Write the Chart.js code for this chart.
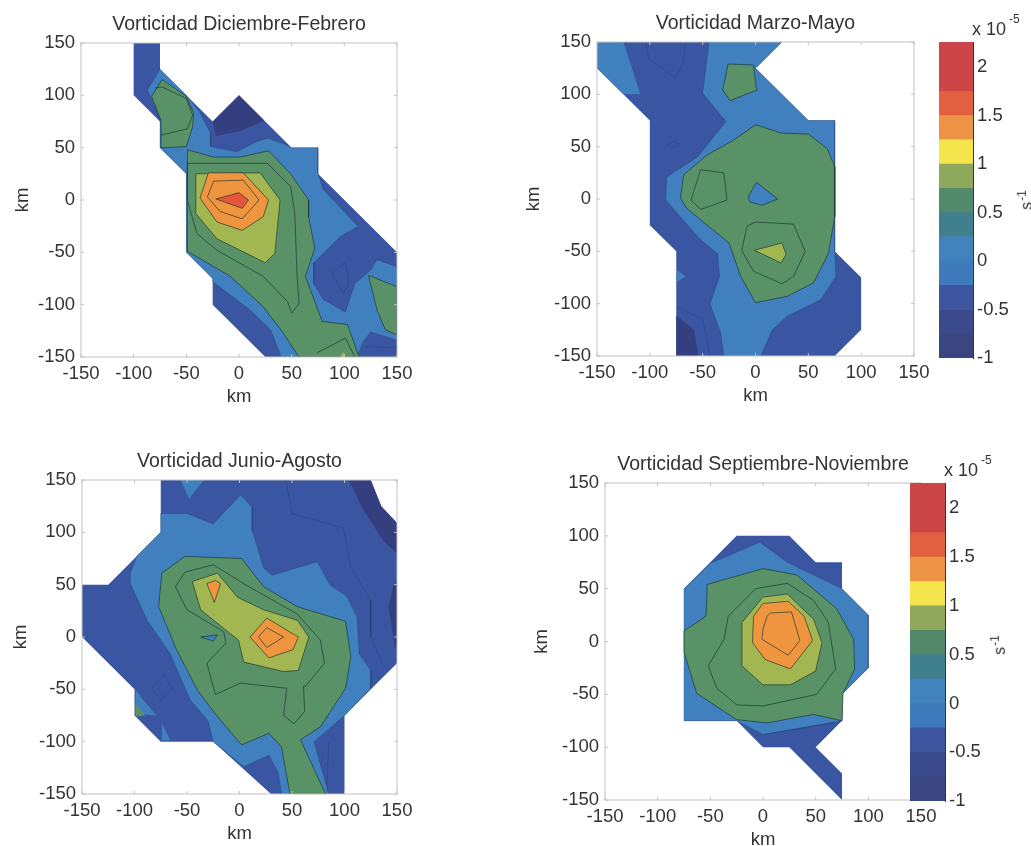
<!DOCTYPE html>
<html>
<head>
<meta charset="utf-8">
<script src="https://cdn.jsdelivr.net/npm/chart.js@4/dist/chart.umd.js"></script>
<style>
  html, body { margin: 0; padding: 0; background: #fff; }
  body { width: 1031px; height: 846px; position: relative; overflow: hidden; font-family: "Liberation Sans", Arial, sans-serif; color: #333; }
  canvas { position: absolute; }
  .lbl { position: absolute; font-size: 18px; white-space: nowrap; line-height: 1; }
  .lbl sup { font-size: 12px; position: relative; top: -7px; vertical-align: top; margin-left: 3px; }
  .rot { transform: rotate(-90deg); transform-origin: center; font-size: 16px; }
  .rot sup { top: -3px; margin-left: 1px; }
</style>
</head>
<body>
<script>
// tick labels
const kmTicks = [-150, -100, -50, 0, 50, 100, 150];
const barTicks = [-1, -0.5, 0, 0.5, 1, 1.5, 2];

// colorbar steps (x 10^-5 s^-1)
const barEdges = [-1, -0.75, -0.5, -0.25, 0, 0.25, 0.5, 0.75, 1, 1.25, 1.5, 1.75, 2.26];
const barColors = ['#3b4680', '#3b4a8d', '#3d559f', '#3f7abc', '#4383bd', '#40808e', '#52896a', '#8fa95c', '#f4e54c', '#ec9346', '#e2603f', '#cc4647'];

// contour colours
const navy = '#333f7f', dark = '#3a56a2', blue = '#4080bf', green = '#5a9268', light = '#a2b752', orange = '#f0953f', red = '#e4553a';

// Diciembre-Febrero, polygons in km
const djfOutline = [[-100,150],[-75,150],[-75,125],[-25,75],[0,100],[50,50],[75,50],[75,25],[150,-50],[150,-150],[25,-150],[-25,-100],[-25,-75],[-50,-50],[-50,25],[-75,50],[-75,75],[-100,100]];
const djfNavy = [[-25,75],[0,100],[24,76],[1,66],[-22,61]];
const djfBlue = [[-75,125],[-50,100],[-38,85],[-27,64],[-27,51],[-2,46],[17,56],[27,59],[42,54],[50,50],[75,50],[75,25],[80,10],[113,-25],[96,-35],[71,-60],[71,-80],[80,-95],[101,-107],[110,-80],[125,-67],[131,-57],[150,-64],[150,-150],[40,-150],[30,-124],[8,-103],[-25,-78],[-25,-75],[-50,-50],[-50,25],[-75,50],[-75,78],[-87,105]];
const djfCorner = [[125,-126],[150,-134],[150,-150],[112,-150],[118,-135]];
const djfGreenTop = [[-73,115],[-50,99],[-43,83],[-44,70],[-50,51],[-74,50],[-74,76],[-83,99]];
const djfGreen = [[-49,48],[-24,41],[1,41],[28,47],[49,25],[66,0],[66,-16],[72,-46],[63,-73],[79,-116],[103,-119],[114,-150],[57,-150],[42,-127],[23,-102],[-8,-73],[-49,-49]];
const djfGreenRight = [[123,-72],[150,-83],[150,-129],[139,-124],[131,-105]];
const djfLight = [[-41,25],[20,26],[39,0],[34,-51],[25,-60],[-21,-37],[-41,-13]];
const djfOrange = [[-29,26],[4,26],[28,0],[23,-16],[3,-29],[-21,-21],[-37,2]];
const djfRingIn = [[-24,18],[4,19],[19,0],[3,-18],[-18,-11],[-30,3]];
const djfRed = [[-22,1],[0,7],[9,0],[3,-8]];
const djfLoop = [[-49,35],[27,35],[49,13],[53,-13],[55,-70],[57,-99],[50,-108],[46,-97],[23,-73],[-21,-48],[-40,-32],[-49,0]];
const djfLineTop = [[-80,107],[-73,108],[-50,97],[-44,81],[-49,68],[-74,62]];
const djfLineLow = [[74,-146],[101,-132],[110,-150]];
const djfLightLow = [[96,-150],[99,-145],[101,-150]];
const djfDiamond = [[88,-70],[101,-59],[104,-80],[99,-89]];
const djfLineCorner = [[120,-140],[150,-141]];

// Marzo-Mayo
const mamOutline = [[-150,150],[25,150],[0,125],[50,75],[75,75],[75,-50],[100,-75],[100,-125],[75,-150],[-75,-150],[-75,-50],[-100,-25],[-100,75],[-150,125]];
const mamBlueLeft = [[-150,150],[-125,150],[-109,100],[-125,100],[-150,125]];
const mamBlue = [[-44,150],[25,150],[0,125],[50,75],[75,75],[75,-50],[76,-74],[62,-96],[30,-112],[16,-125],[5,-150],[-30,-150],[-33,-128],[-43,-100],[-34,-74],[-36,-52],[-52,-39],[-85,-1],[-84,21],[-55,40],[-28,74],[-50,101]];
const mamBlueDot = [[-74,-68],[-66,-74],[-74,-79],[-75,-76]];
const mamNavy = [[-75,-111],[-68,-117],[-58,-125],[-54,-150],[-75,-150]];
const mamGreen = [[0,71],[24,63],[50,62],[68,48],[75,31],[75,-17],[69,-52],[55,-80],[30,-93],[0,-99],[-14,-74],[-25,-42],[-65,-9],[-71,1],[-68,23],[-46,42],[-21,56]];
const mamHole = [[1,16],[21,0],[6,-6],[-5,-3],[-7,2]];
const mamGreenTop = [[-26,129],[-2,128],[1,104],[-24,94],[-31,104]];
const mamPentagon = [[-52,28],[-30,25],[-27,-1],[-52,-10],[-61,-1]];
const mamLoop = [[0,-22],[36,-24],[47,-50],[36,-74],[25,-81],[-2,-69],[-13,-49],[-8,-26]];
const mamLight = [[-1,-49],[25,-42],[29,-53],[24,-61]];
const mamLineTop = [[-104,150],[-101,134],[-76,116],[-69,129],[-66,150]];
const mamLineDot = [[-84,52],[-77,55],[-72,52],[-79,49]];
const mamLineLow = [[-75,-103],[-50,-115],[-43,-150]];

// Junio-Agosto
const jjaOutline = [[-75,150],[125,150],[135,125],[150,109],[150,-25],[100,-75],[100,-150],[30,-150],[-25,-100],[-75,-100],[-100,-75],[-100,-50],[-150,0],[-150,50],[-125,50],[-75,100]];
const jjaNavyTop = [[104,150],[125,150],[135,125],[150,109],[150,80],[137,92],[118,121]];
const jjaNavyLow = [[147,51],[142,29],[148,-9],[150,-12],[150,51]];
const jjaBlueTop = [[-56,150],[-34,150],[-48,132]];
const jjaBlue = [[-75,118],[-50,118],[-25,108],[1,136],[12,124],[12,102],[23,66],[31,59],[74,72],[86,50],[102,39],[112,19],[114,-16],[125,-32],[125,-49],[100,-75],[71,-100],[85,-150],[40,-150],[37,-130],[28,-113],[4,-124],[-25,-100],[-30,-80],[-47,-60],[-66,-16],[-88,16],[-104,51],[-104,61],[-98,77],[-75,100]];
const jjaBlueFoot = [[-99,-50],[-99,-73],[-79,-75],[-92,-60]];
const jjaGreenFoot = [[-99,-63],[-90,-75],[-99,-76]];
const jjaBlueSpot = [[-74,-82],[-66,-99],[-74,-99]];
const jjaGreen = [[-52,77],[2,75],[23,48],[55,29],[101,15],[106,-19],[101,-49],[77,-86],[58,-98],[82,-150],[48,-150],[40,-105],[28,-92],[2,-103],[-21,-76],[-40,-51],[-60,-12],[-77,29],[-74,61]];
const jjaHole = [[-37,0],[-21,2],[-25,-4]];
const jjaLight = [[-45,53],[-21,61],[-2,38],[23,26],[55,16],[66,0],[56,-32],[42,-33],[4,-24],[-1,-3],[-37,26]];
const jjaOrangeTop = [[-31,51],[-23,54],[-18,51],[-24,33]];
const jjaOrange = [[10,0],[26,18],[56,0],[51,-12],[28,-20]];
const jjaRing = [[18,0],[26,9],[42,0],[26,-10]];
const jjaLoop = [[-61,48],[-52,62],[-25,69],[4,51],[55,22],[77,-3],[81,-25],[63,-47],[61,-47],[62,-71],[52,-83],[42,-75],[45,-49],[1,-44],[-23,-55],[-31,-25],[-13,-6],[-15,5],[-50,26]];
const jjaLineDark = [[44,150],[50,118],[99,104],[106,67],[125,35],[125,0],[137,-28]];
const jjaDiamond = [[-84,-49],[-72,-36],[-64,-49],[-75,-60]];
const jjaLineLow = [[85,-100],[83,-150]];

// Septiembre-Noviembre
const sonOutline = [[-75,50],[-25,100],[25,100],[50,75],[75,75],[75,50],[100,25],[100,-25],[75,-50],[75,-75],[50,-100],[75,-125],[75,-150],[25,-100],[0,-100],[-25,-75],[-75,-75]];
const sonBlue = [[-75,50],[-50,74],[-3,94],[23,75],[75,50],[100,25],[100,-25],[75,-50],[75,-75],[0,-88],[-25,-75],[-75,-75]];
const sonGreen = [[-53,54],[0,69],[32,63],[70,31],[86,2],[87,-26],[76,-49],[75,-75],[48,-69],[4,-77],[-25,-74],[-63,-49],[-75,-10],[-75,10],[-54,24]];
const sonLight = [[-20,18],[0,42],[23,45],[48,21],[56,-1],[50,-28],[26,-41],[0,-41],[-20,-23]];
const sonOrange = [[-9,24],[0,36],[24,38],[39,24],[47,1],[26,-26],[2,-17],[-10,-1]];
const sonRing = [[4,24],[7,27],[27,28],[35,1],[24,-13],[-1,2],[0,12]];
const sonLoop = [[-33,24],[-7,50],[23,55],[48,39],[62,18],[69,-26],[51,-50],[0,-61],[-25,-60],[-44,-44],[-52,-23],[-37,2]];
const sonLineLow = [[0,-88],[67,-77]];

const strongLine = 'rgba(25,50,45,0.65)';
const softLine = 'rgba(30,50,90,0.3)';

// polygone rempli, dessine dans l'ordre de la liste
function area(points, color, line) {
  return {
    data: points.concat([points[0]]).map(p => ({ x: p[0], y: p[1] })),
    showLine: true, tension: 0, pointRadius: 0,
    fill: 'shape', backgroundColor: color,
    borderColor: line || color, borderWidth: line ? 1 : 0
  };
}
// ligne de contour seule
function contour(points, closed, line) {
  const pts = closed ? points.concat([points[0]]) : points;
  return {
    data: pts.map(p => ({ x: p[0], y: p[1] })),
    showLine: true, tension: 0, pointRadius: 0, fill: false,
    borderColor: line || strongLine, borderWidth: 1
  };
}

const boxAndTicks = {
  id: 'boxAndTicks',
  afterDatasetsDraw(chart) {
    const { ctx, chartArea: a, scales } = chart;
    ctx.save();
    ctx.strokeStyle = '#c2c2c2';
    ctx.lineWidth = 1;
    ctx.strokeRect(a.left, a.top, a.right - a.left, a.bottom - a.top);
    ctx.beginPath();
    kmTicks.forEach(v => {
      const x = scales.x.getPixelForValue(v), y = scales.y.getPixelForValue(v);
      ctx.moveTo(x, a.bottom); ctx.lineTo(x, a.bottom - 3);
      ctx.moveTo(x, a.top); ctx.lineTo(x, a.top + 3);
      ctx.moveTo(a.left, y); ctx.lineTo(a.left + 3, y);
      ctx.moveTo(a.right, y); ctx.lineTo(a.right - 3, y);
    });
    ctx.stroke();
    ctx.restore();
  }
};

function addCanvas(left, top, width, height) {
  const c = document.createElement('canvas');
  c.width = width; c.height = height;
  c.style.left = left + 'px'; c.style.top = top + 'px';
  c.style.width = width + 'px'; c.style.height = height + 'px';
  document.body.appendChild(c);
  return c;
}

function addPanel(box, title, datasets) {
  const topH = 35, botH = 52, rightW = 30;
  const leftW = box.kmGap + 10;
  const canvas = addCanvas(box.l - leftW, box.t - topH, box.r - box.l + leftW + rightW, box.b - box.t + topH + botH);
  const tickFont = { family: 'Liberation Sans', size: 18.5 };
  const noGrid = { display: false, drawTicks: false };
  new Chart(canvas, {
    type: 'scatter',
    data: { datasets: datasets.slice().reverse() },
    options: {
      responsive: false, animation: false,
      layout: { padding: { right: rightW } },
      plugins: { legend: { display: false }, tooltip: { enabled: false } },
      scales: {
        x: {
          type: 'linear', position: 'bottom', min: -150, max: 150,
          grid: noGrid, border: { display: false },
          afterBuildTicks: s => { s.ticks = kmTicks.map(value => ({ value })); },
          afterFit: s => { s.height = botH; },
          ticks: { font: tickFont, color: '#333', padding: 6, maxRotation: 0, autoSkip: false },
          title: { display: true, text: 'km', color: '#333', font: { family: 'Liberation Sans', size: 18.5 }, padding: { top: 0, bottom: 1 } }
        },
        xTop: {
          type: 'linear', position: 'top', min: -150, max: 150,
          grid: noGrid, border: { display: false },
          ticks: { display: false },
          afterFit: s => { s.height = topH; },
          title: { display: true, text: title, color: '#333', font: { family: 'Liberation Sans', size: 19.5 }, padding: { top: 5, bottom: 0 } }
        },
        y: {
          type: 'linear', position: 'left', min: -150, max: 150,
          grid: noGrid, border: { display: false },
          afterBuildTicks: s => { s.ticks = kmTicks.map(value => ({ value })); },
          afterFit: s => { s.width = leftW; },
          ticks: { font: tickFont, color: '#333', padding: 6, autoSkip: false },
          title: { display: true, text: 'km', color: '#333', font: { family: 'Liberation Sans', size: 18.5 }, padding: { top: 0, bottom: 0 } }
        }
      }
    },
    plugins: [boxAndTicks]
  });
}

function addColorbar(box) {
  const pad = 20, rightW = 44;
  const canvas = addCanvas(box.l, box.t - pad, box.r - box.l + rightW, box.b - box.t + 2 * pad);
  new Chart(canvas, {
    type: 'bar',
    data: {
      labels: [''],
      datasets: barColors.map((color, i) => ({ data: [[barEdges[i], barEdges[i + 1]]], backgroundColor: color, borderWidth: 0, grouped: false, barPercentage: 1, categoryPercentage: 1 }))
    },
    options: {
      responsive: false, animation: false,
      layout: { padding: { top: pad, bottom: pad } },
      plugins: { legend: { display: false }, tooltip: { enabled: false } },
      scales: {
        x: { display: false },
        y: {
          position: 'right', min: -1, max: 2.26,
          grid: { display: false, drawTicks: false }, border: { display: true, color: '#2c3350' },
          afterBuildTicks: s => { s.ticks = barTicks.map(value => ({ value })); },
          afterFit: s => { s.width = rightW; },
          ticks: { font: { family: 'Liberation Sans', size: 18.5 }, color: '#333', padding: 4, autoSkip: false, callback: v => String(v) }
        }
      }
    }
  });
}

function addLabel(html, left, top, cls) {
  const d = document.createElement('div');
  d.className = 'lbl ' + (cls || '');
  d.innerHTML = html;
  d.style.left = left + 'px'; d.style.top = top + 'px';
  document.body.appendChild(d);
}

addPanel({ l: 81, t: 43, r: 397, b: 357, kmGap: 59 }, 'Vorticidad Diciembre-Febrero', [
  area(djfOutline, dark),
  area(djfNavy, navy),
  area(djfBlue, blue, softLine),
  area(djfCorner, dark, softLine),
  area(djfGreenTop, green, strongLine),
  area(djfGreen, green, strongLine),
  area(djfGreenRight, green, strongLine),
  area(djfLight, light, strongLine),
  area(djfOrange, orange, strongLine),
  contour(djfRingIn, true),
  area(djfRed, red, strongLine),
  contour(djfLoop, true),
  contour(djfLineTop, false),
  contour(djfLineLow, false),
  area(djfLightLow, light),
  contour(djfDiamond, true, softLine),
  contour(djfLineCorner, false, softLine)
]);

addPanel({ l: 597, t: 42, r: 914, b: 356, kmGap: 64 }, 'Vorticidad Marzo-Mayo', [
  area(mamOutline, dark),
  area(mamBlueLeft, blue),
  area(mamBlue, blue, softLine),
  area(mamBlueDot, blue),
  area(mamNavy, navy),
  area(mamGreen, green, strongLine),
  area(mamHole, blue, strongLine),
  area(mamGreenTop, green, strongLine),
  contour(mamPentagon, true),
  contour(mamLoop, true),
  area(mamLight, light, strongLine),
  contour(mamLineTop, false, softLine),
  contour(mamLineDot, true, softLine),
  contour(mamLineLow, false, softLine)
]);

addPanel({ l: 82, t: 480, r: 397, b: 794, kmGap: 62 }, 'Vorticidad Junio-Agosto', [
  area(jjaOutline, dark),
  area(jjaNavyTop, navy),
  area(jjaNavyLow, navy),
  area(jjaBlueTop, blue),
  area(jjaBlue, blue, softLine),
  area(jjaBlueFoot, blue),
  area(jjaGreenFoot, green),
  area(jjaBlueSpot, blue),
  area(jjaGreen, green, strongLine),
  area(jjaHole, blue, strongLine),
  area(jjaLight, light, strongLine),
  area(jjaOrangeTop, orange, strongLine),
  area(jjaOrange, orange, strongLine),
  contour(jjaRing, true),
  contour(jjaLoop, true),
  contour(jjaLineDark, false, softLine),
  contour(jjaDiamond, true, softLine),
  contour(jjaLineLow, false, softLine)
]);

addPanel({ l: 605, t: 483, r: 921, b: 800, kmGap: 64 }, 'Vorticidad Septiembre-Noviembre', [
  area(sonOutline, dark),
  area(sonBlue, blue, softLine),
  area(sonGreen, green, strongLine),
  area(sonLight, light, strongLine),
  area(sonOrange, orange, strongLine),
  contour(sonRing, true),
  contour(sonLoop, true),
  contour(sonLineLow, false, softLine)
]);

addColorbar({ l: 939, t: 42, r: 973, b: 358 });
addColorbar({ l: 910, t: 483, r: 945, b: 801 });

addLabel('x 10<sup>-5</sup>', 972, 20);
addLabel('x 10<sup>-5</sup>', 944, 461);
addLabel('s<sup>-1</sup>', 1017, 192, 'rot');
addLabel('s<sup>-1</sup>', 990, 637, 'rot');
</script>
</body>
</html>
